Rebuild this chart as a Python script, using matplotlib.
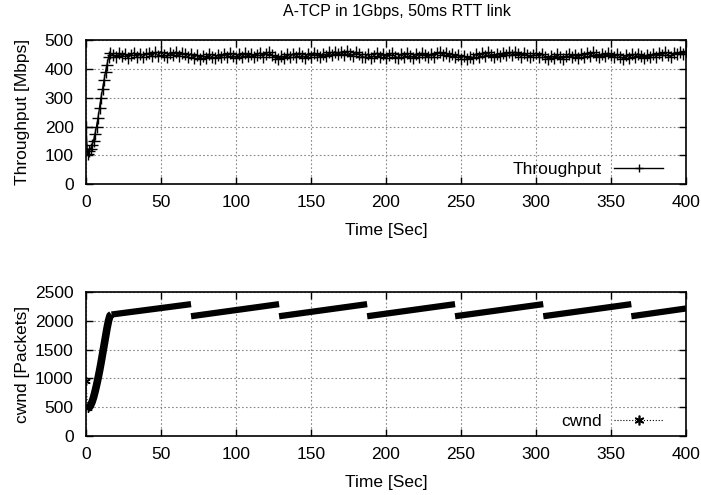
import numpy as np
import matplotlib.pyplot as plt
from matplotlib.lines import Line2D

plt.rcParams['font.family'] = ['Liberation Sans', 'DejaVu Sans']
plt.rcParams['font.size'] = 12.5

# -----------------------------------------------
# Data
# -----------------------------------------------
# throughput: 1 s samples during slow start, then 2 s samples
thr_time = np.concatenate([np.arange(0, 17, 1), np.arange(18, 401, 2)])
thr_ramp = [200, 105, 115, 122, 135, 150, 175, 200, 230, 265, 300, 330, 360,
            390, 415, 440, 455]
thr_steady = [
    449, 441, 454, 444, 452, 439, 448, 456, 442, 451, 441, 453,
    454, 444, 457, 446, 460, 448, 443, 456, 447, 459, 445, 454,
    450, 441, 453, 439, 448, 436, 446, 438, 451, 441, 437, 449,
    441, 453, 443, 454, 446, 438, 452, 441, 454, 444, 451, 440,
    448, 456, 443, 453, 458, 447, 440, 435, 445, 438, 450, 442,
    452, 441, 455, 446, 439, 453, 443, 456, 448, 442, 453, 445,
    457, 447, 460, 450, 458, 448, 461, 451, 445, 459, 450, 443,
    440, 452, 437, 446, 455, 441, 450, 437, 447, 454, 443, 439,
    451, 442, 454, 445, 439, 452, 443, 455, 447, 440, 452, 443,
    454, 458, 448, 456, 444, 452, 440, 448, 436, 445, 436, 443,
    439, 452, 442, 454, 445, 457, 448, 441, 453, 445, 455, 447,
    457, 448, 459, 450, 443, 456, 448, 440, 447, 455, 443, 451,
    442, 435, 446, 438, 450, 441, 435, 445, 452, 442, 448, 439,
    450, 443, 455, 446, 457, 448, 441, 453, 444, 455, 447, 440,
    451, 442, 436, 447, 439, 450, 441, 453, 444, 438, 448, 441,
    452, 443, 455, 447, 458, 448, 442, 456, 450, 459, 450, 461,
]
throughput = thr_ramp + thr_steady

# cwnd: slow start points then sawtooth break points
cwnd_start_time = [0, 1, 2, 3, 4, 5, 6, 7, 8, 9, 10, 11, 12, 13, 14, 15, 16, 17]
cwnd_start = [950, 480, 495, 530, 590, 670, 770, 880, 1000, 1130, 1270, 1420,
              1570, 1720, 1870, 2000, 2090, 2110]
saw_start_time = [17, 70, 128.7, 187.4, 246, 304.8, 363.5]
saw_end_time = [70, 128.7, 187.4, 246, 304.8, 363.5, 400]
saw_start = [2110, 2080, 2080, 2080, 2080, 2080, 2080]
saw_end = [2290, 2290, 2290, 2290, 2290, 2290, 2215]

# -----------------------------------------------
# Figure
# -----------------------------------------------
fig = plt.figure(figsize=(7.01, 4.95), dpi=100)
ax1 = fig.add_axes([0.1227, 0.628, 0.856, 0.291])
ax2 = fig.add_axes([0.1227, 0.119, 0.856, 0.291])

fig.text(0.566, 0.976, "A-TCP in 1Gbps, 50ms RTT link", ha='center',
         va='center', fontsize=11.5)

asterisk = (6, 2, 0)


def style_axis(ax, ymax, ystep):
    ax.set_xlim(0, 400)
    ax.set_ylim(0, ymax)
    ax.set_xticks(np.arange(0, 401, 50))
    ax.set_yticks(np.arange(0, ymax + 1, ystep))
    ax.grid(True, linestyle=(0, (1.5, 2)), color='#888888', linewidth=0.8)
    ax.tick_params(direction='in', top=True, right=True, length=5, width=1,
                   pad=9)
    ax.tick_params(axis='x', pad=8)
    for s in ax.spines.values():
        s.set_linewidth(1.2)
    ax.set_xlabel("Time [Sec]", labelpad=9)
    ax.yaxis.set_label_coords(-0.093, 0.5)


legend_opts = dict(loc='lower right', bbox_to_anchor=(0.973, 0.0),
                   frameon=False, markerfirst=False, handlelength=2.8,
                   borderaxespad=0, handletextpad=0.7)

# Throughput
ax1.plot(thr_time, throughput, color='black', linewidth=1.0, marker='+',
         markersize=9, markeredgewidth=1.0, label="Throughput")
style_axis(ax1, 500, 100)
ax1.set_ylabel("Throughput [Mbps]")
ax1.legend(markerscale=0.7, **legend_opts)

# cwnd
ax2.plot(cwnd_start_time[:2], cwnd_start[:2], color='black', linewidth=0.8,
         linestyle=':', marker=asterisk, markersize=6)
ax2.plot(cwnd_start_time[1:], cwnd_start[1:], color='black', linewidth=5.5,
         solid_capstyle='butt', solid_joinstyle='round')
for t0, t1, c0, c1 in zip(saw_start_time, saw_end_time, saw_start, saw_end):
    ax2.plot([t0, t1], [c0, c1], color='black', linewidth=4.5,
             solid_capstyle='butt')
style_axis(ax2, 2500, 500)
ax2.set_ylabel("cwnd [Packets]")
handle = Line2D([], [], color='black', linewidth=0.8, linestyle=':',
                marker=asterisk, markersize=7, markeredgewidth=1.2)
ax2.legend([handle], ["cwnd"], **legend_opts)

fig.savefig("out.png", dpi=100)
